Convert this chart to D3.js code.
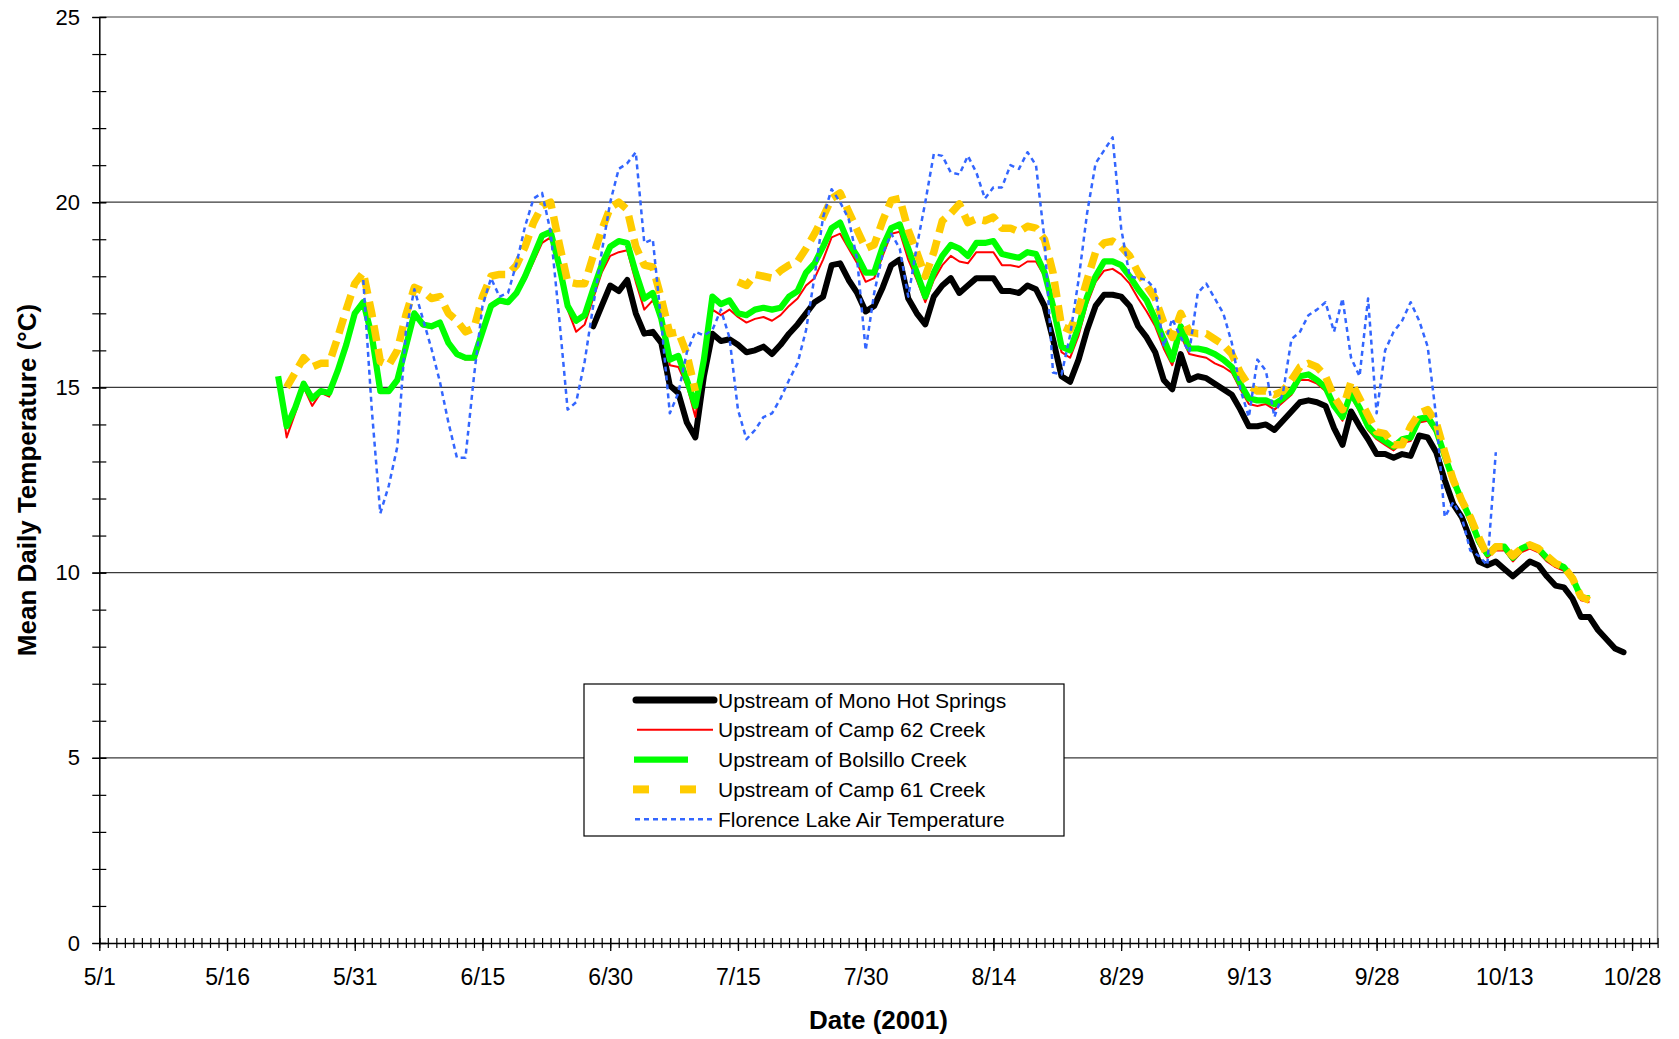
<!DOCTYPE html>
<html>
<head>
<meta charset="utf-8">
<script src="https://cdn.jsdelivr.net/npm/d3@7"></script>
<style>
  html, body { margin: 0; padding: 0; background: #fff; }
  svg { display: block; font-family: "Liberation Sans", Arial, sans-serif; }
</style>
</head>
<body>
<svg id="chart" width="1679" height="1039"></svg>
<script>
// Mean daily temperatures, 2001. Each series is a run of consecutive daily values
// beginning on its start date; null marks days without a record.
const seriesNames = [
  "Upstream of Mono Hot Springs",
  "Upstream of Camp 62 Creek",
  "Upstream of Bolsillo Creek",
  "Upstream of Camp 61 Creek",
  "Florence Lake Air Temperature"
];
const startDates = ["2001-06-28", "2001-05-22", "2001-05-22", "2001-05-23", "2001-06-01"];

const monoHotSprings = [
  16.65,17.2,17.75,17.6,17.9,17.0,16.45,16.5,16.2,15.05,
  14.85,14.05,13.65,15.3,16.45,16.25,16.3,16.15,15.95,16.0,
  16.1,15.9,16.15,16.45,16.7,17.0,17.3,17.45,18.3,18.35,
  17.9,17.55,17.05,17.2,17.7,18.3,18.45,17.4,17.0,16.7,
  17.45,17.75,17.95,17.55,17.75,17.95,17.95,17.95,17.6,17.6,
  17.55,17.75,17.65,17.2,16.3,15.3,15.15,15.75,16.55,17.2,
  17.5,17.5,17.45,17.2,16.65,16.35,15.95,15.2,14.95,15.9,
  15.2,15.3,15.25,15.1,14.95,14.8,14.4,13.95,13.95,14.0,
  13.85,14.1,14.35,14.6,14.65,14.6,14.5,13.9,13.45,14.35,
  13.95,13.6,13.2,13.2,13.1,13.2,13.15,13.7,13.65,13.25,
  12.5,11.85,11.5,10.9,10.3,10.2,10.3,10.1,9.9,10.1,
  10.3,10.2,9.9,9.65,9.6,9.3,8.8,8.8,8.45,8.2,
  7.95,7.85
];

const camp62Creek = [
  15.2,13.65,14.3,15.0,14.5,14.85,14.75,15.4,16.1,16.95,
  17.25,16.35,14.85,14.85,15.15,16.05,16.95,16.65,16.6,16.7,
  16.15,15.85,15.75,15.75,16.45,17.15,17.3,17.25,17.5,17.9,
  18.4,18.9,19.05,18.2,17.1,16.5,16.7,17.4,18.1,18.55,
  18.65,18.7,17.85,17.1,17.35,16.8,15.6,15.55,15.05,14.2,
  15.9,17.1,16.95,17.1,16.9,16.75,16.85,16.9,16.8,16.95,
  17.2,17.4,17.75,17.95,18.45,19.05,19.15,18.75,18.35,17.85,
  17.95,18.55,19.15,19.2,18.45,17.9,17.3,17.9,18.3,18.55,
  18.4,18.35,18.65,18.65,18.65,18.3,18.3,18.25,18.4,18.4,
  18.0,17.0,15.95,15.8,16.4,17.25,17.85,18.15,18.2,18.05,
  17.8,17.4,17.05,16.65,16.05,15.6,16.4,15.9,15.85,15.8,
  15.65,15.55,15.4,14.95,14.55,14.5,14.55,14.4,14.6,14.8,
  15.2,15.2,15.1,14.9,14.45,14.1,14.75,14.35,13.85,13.6,
  13.45,13.3,13.5,13.55,14.05,14.1,13.75,13.05,12.4,11.85,
  11.35,10.75,10.4,10.6,10.6,10.3,10.55,10.65,10.55,10.3,
  10.15,10.05,9.75,9.25,9.2
];

const bolsilloCreek = [
  15.3,13.95,14.45,15.1,14.7,14.9,14.85,15.45,16.15,17.0,
  17.3,16.4,14.9,14.9,15.2,16.1,17.0,16.7,16.65,16.75,
  16.2,15.9,15.8,15.8,16.5,17.2,17.35,17.3,17.55,18.0,
  18.55,19.1,19.2,18.3,17.2,16.8,16.95,17.65,18.3,18.8,
  18.95,18.9,18.1,17.4,17.55,16.85,15.75,15.85,15.2,14.5,
  15.75,17.45,17.25,17.35,17.0,16.95,17.1,17.15,17.1,17.15,
  17.45,17.6,18.1,18.35,18.8,19.3,19.45,18.9,18.55,18.1,
  18.1,18.8,19.3,19.4,18.75,18.1,17.45,18.1,18.55,18.85,
  18.75,18.55,18.9,18.9,18.95,18.6,18.55,18.5,18.65,18.6,
  18.1,17.2,16.1,16.0,16.65,17.45,18.0,18.4,18.4,18.3,
  18.0,17.65,17.35,16.85,16.3,15.75,16.65,16.05,16.05,16.0,
  15.9,15.75,15.55,15.1,14.7,14.65,14.65,14.55,14.7,14.9,
  15.3,15.35,15.2,15.0,14.5,14.2,14.85,14.45,13.95,13.7,
  13.55,13.4,13.6,13.65,14.15,14.2,13.85,13.15,12.5,11.95,
  11.45,10.85,10.5,10.7,10.7,10.4,10.65,10.75,10.65,10.4,
  10.25,10.15,9.85,9.35,9.3
];

const camp61Creek = [
  15.0,15.4,15.8,15.55,15.65,15.65,16.35,17.1,17.8,18.1,
  17.0,15.7,15.6,16.0,16.95,17.7,17.6,17.4,17.45,17.0,
  16.8,16.5,16.6,17.45,18.0,18.05,18.05,18.3,18.8,19.45,
  19.9,20.0,18.9,17.85,17.8,17.8,18.55,19.25,19.85,20.0,
  19.8,18.8,18.3,18.25,17.4,16.45,16.5,15.9,14.9,null,
  null,null,null,17.85,17.75,18.05,18.0,17.95,18.15,18.3,
  18.4,18.75,19.15,19.6,20.1,20.25,19.75,19.25,18.75,18.85,
  19.5,20.05,20.1,19.25,18.65,18.0,18.65,19.5,19.7,19.95,
  19.45,19.55,19.5,19.6,19.3,19.3,19.2,19.35,19.3,19.0,
  18.1,16.65,16.55,17.1,17.9,18.65,18.9,18.95,18.8,18.55,
  18.1,17.75,17.4,16.75,16.35,17.0,16.5,16.45,16.45,16.3,
  16.15,15.9,15.4,15.05,14.9,14.9,14.8,14.9,15.2,15.55,
  15.65,15.55,15.3,14.75,14.4,15.15,14.7,14.25,13.8,13.75,
  13.45,13.45,13.95,14.3,14.4,14.05,13.25,12.5,11.95,11.5,
  10.95,10.45,10.7,10.7,10.45,10.65,10.75,10.65,10.45,10.25,
  10.15,9.85,9.35,9.25
];

const florenceLakeAir = [
  17.9,14.4,11.6,12.35,13.4,16.5,17.65,16.85,16.05,15.15,
  14.05,13.1,13.1,15.3,17.2,17.95,17.45,17.55,18.35,19.35,
  20.1,20.25,19.2,16.9,14.4,14.6,15.7,17.2,18.65,20.0,
  20.9,21.05,21.35,18.9,19.0,16.75,14.3,14.85,15.95,16.5,
  16.4,16.55,17.1,16.35,14.4,13.6,13.85,14.2,14.3,14.7,
  15.2,15.65,16.55,18.0,19.6,20.35,20.0,19.55,18.45,16.0,
  17.55,18.6,19.15,18.75,17.45,18.8,20.0,21.3,21.25,20.8,
  20.75,21.25,20.8,20.1,20.4,20.4,21.0,20.9,21.35,21.0,
  19.0,15.4,15.35,16.4,17.9,19.7,21.05,21.4,21.75,19.3,
  18.0,17.95,17.9,17.65,16.1,16.85,16.35,15.95,17.55,17.8,
  17.4,17.0,16.2,14.95,14.2,15.75,15.45,14.2,14.85,16.3,
  16.5,16.95,17.1,17.3,16.5,17.4,15.8,15.3,17.4,14.3,
  16.0,16.5,16.8,17.3,16.8,16.1,14.2,11.5,11.9,11.5,
  10.6,10.45,10.2,13.25
];

const seriesValues = [monoHotSprings, camp62Creek, bolsilloCreek, camp61Creek, florenceLakeAir];

const xTickLabels = ["5/1","5/16","5/31","6/15","6/30","7/15","7/30","8/14","8/29","9/13","9/28","10/13","10/28"];
const yTickLabels = [0, 5, 10, 15, 20, 25];
const xTitle = "Date (2001)";
const yTitle = "Mean Daily Temperature (°C)";

// ---- drawing ----
const svg = d3.select("#chart");
const parse = d3.utcParse("%Y-%m-%d");
const dateStart = parse("2001-05-01");
const dateEnd = parse("2001-10-31");
const plot = { left: 99.3, right: 1657.6, top: 17, bottom: 943 };

const x = d3.scaleUtc().domain([dateStart, dateEnd]).range([plot.left, plot.right]);
const y = d3.scaleLinear().domain([0, 25]).range([plot.bottom, plot.top]);

const styles = [
  { color: "#000000", width: 6,   dash: null,  cap: "round" },
  { color: "#ff0000", width: 2,   dash: null,  cap: "butt" },
  { color: "#00ff00", width: 6.2, dash: null,  cap: "butt" },
  { color: "#ffcc00", width: 7.5, dash: "16,8", cap: "butt" },
  { color: "#3366ff", width: 2.5, dash: "5,4", cap: "butt" }
];

// horizontal gridlines and plot border
const gridVals = yTickLabels.filter(v => v > 0 && v < 25);
svg.append("g").selectAll("line").data(gridVals).join("line")
  .attr("x1", plot.left).attr("x2", plot.right)
  .attr("y1", d => y(d)).attr("y2", d => y(d))
  .attr("stroke", "#3a3a3a").attr("stroke-width", 1.2);
svg.append("path")
  .attr("d", `M${plot.left},${y(25)}H${plot.right}V${plot.bottom}`)
  .attr("fill", "none").attr("stroke", "#7f7f7f").attr("stroke-width", 1.5);

// x axis: a tick for every day, labelled ticks every 15 days
const allDays = d3.utcDay.range(dateStart, d3.utcDay.offset(dateEnd, 1));
const majorDays = xTickLabels.map((_, i) => d3.utcDay.offset(dateStart, i * 15));

const xMinor = svg.append("g").attr("transform", `translate(0,${plot.bottom})`)
  .call(d3.axisBottom(x).tickValues(allDays).tickSize(5).tickSizeOuter(0).tickFormat(""));
xMinor.select(".domain").remove();
xMinor.selectAll(".tick line").attr("y1", -5).attr("stroke", "#000").attr("stroke-width", 1.2);

const xMajor = svg.append("g").attr("transform", `translate(0,${plot.bottom})`)
  .call(d3.axisBottom(x).tickValues(majorDays).tickSize(8).tickSizeOuter(0).tickPadding(17.7)
    .tickFormat((d, i) => xTickLabels[i]));
xMajor.select(".domain").attr("stroke", "#000").attr("stroke-width", 1.5);
xMajor.selectAll(".tick line").attr("y1", -5).attr("stroke", "#000").attr("stroke-width", 1.3);
xMajor.selectAll("text").attr("font-size", 23).attr("fill", "#000")
  .attr("font-family", "'Liberation Sans', Arial, sans-serif");

// y axis: minor ticks each degree, labels every 5
const yMinor = svg.append("g").attr("transform", `translate(${plot.left},0)`)
  .call(d3.axisLeft(y).tickValues(d3.range(0, 26, 1)).tickSize(7).tickSizeOuter(0).tickFormat(""));
yMinor.select(".domain").remove();
yMinor.selectAll(".tick line").attr("x1", 7).attr("stroke", "#000").attr("stroke-width", 1.2);

const yAxis = svg.append("g").attr("transform", `translate(${plot.left},0)`)
  .call(d3.axisLeft(y).tickValues(yTickLabels).tickSize(7).tickSizeOuter(0).tickPadding(12.3)
    .tickFormat(d3.format("d")));
yAxis.select(".domain").attr("stroke", "#000").attr("stroke-width", 1.5);
yAxis.selectAll(".tick line").attr("x1", 7).attr("stroke", "#000").attr("stroke-width", 1.3);
yAxis.selectAll("text").attr("font-size", 22).attr("fill", "#000")
  .attr("font-family", "'Liberation Sans', Arial, sans-serif");

// axis titles
svg.append("text")
  .attr("x", (plot.left + plot.right) / 2).attr("y", 1029)
  .attr("text-anchor", "middle").attr("font-size", 26).attr("font-weight", "bold")
  .text(xTitle);
svg.append("text")
  .attr("transform", `translate(36,${(plot.top + plot.bottom) / 2}) rotate(-90)`)
  .attr("text-anchor", "middle").attr("font-size", 26).attr("font-weight", "bold")
  .text(yTitle);

// series lines
const line = d3.line()
  .defined(d => d.v !== null)
  .x(d => x(d.date))
  .y(d => y(d.v))
  .curve(d3.curveLinear);

seriesValues.forEach((vals, i) => {
  const start = parse(startDates[i]);
  const pts = vals.map((v, k) => ({ date: d3.utcDay.offset(start, k), v }));
  const s = styles[i];
  svg.append("path")
    .datum(pts)
    .attr("d", line)
    .attr("fill", "none")
    .attr("stroke", s.color)
    .attr("stroke-width", s.width)
    .attr("stroke-linejoin", "round")
    .attr("stroke-linecap", s.cap)
    .attr("stroke-dasharray", s.dash);
});

// legend
const lg = svg.append("g");
lg.append("rect")
  .attr("x", 584).attr("y", 684).attr("width", 480).attr("height", 152)
  .attr("fill", "#fff").attr("stroke", "#000").attr("stroke-width", 1.2);

const rowY = i => 700 + i * 29.8;
const sampleSegs = [
  [[636, 714]],
  [[637, 713]],
  [[634, 688]],
  [[633, 649], [680, 696]],
  [[635, 714]]
];
seriesNames.forEach((name, i) => {
  const s = styles[i];
  sampleSegs[i].forEach(seg => {
    lg.append("line")
      .attr("x1", seg[0]).attr("x2", seg[1])
      .attr("y1", rowY(i)).attr("y2", rowY(i))
      .attr("stroke", s.color)
      .attr("stroke-width", i === 3 ? 8 : (i === 0 ? 7 : s.width))
      .attr("stroke-linecap", s.cap)
      .attr("stroke-dasharray", i === 4 ? s.dash : null);
  });
  lg.append("text")
    .attr("x", 718).attr("y", rowY(i))
    .attr("dominant-baseline", "central")
    .attr("font-size", 21).attr("fill", "#000")
    .text(name);
});
</script>
</body>
</html>
